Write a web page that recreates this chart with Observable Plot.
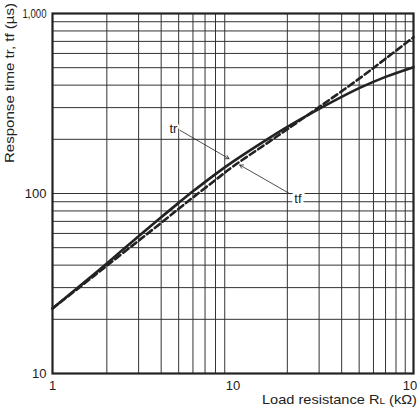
<!DOCTYPE html>
<html>
<head>
<meta charset="utf-8">
<script src="https://cdn.jsdelivr.net/npm/d3@7"></script>
<script src="https://cdn.jsdelivr.net/npm/@observablehq/plot@0.6"></script>
<style>
  body { margin: 0; background: #fff; overflow: hidden; }
  #chart { width: 417px; height: 409px; overflow: hidden; }
</style>
</head>
<body>
<div id="chart"></div>
<script>
// Load resistance RL (kΩ)
const rl = [1, 1.5, 2, 3, 4, 5, 6, 8, 10, 15, 20, 30, 50, 70, 100];
// Rise time tr (µs)
const trValues = [23, 32.1, 40.9, 57.8, 73.8, 88.7, 102.8, 128.2, 150.3, 196, 234.4, 295, 384.6, 444.6, 503.5];
// Fall time tf (µs)
const tfValues = [23, 31.6, 39.7, 54.7, 68.7, 82.2, 95.1, 118.9, 141.3, 186.6, 227.5, 302, 434.5, 561, 738];

const xTicks = [1, 10, 100];
const yTicks = [10, 100, 1000];
const xMinor = [2,3,4,5,6,7,8,9,20,30,40,50,60,70,80,90];
const yMinor = [20,30,40,50,60,70,80,90,100,200,300,400,500,600,700,800,900];

const trData = rl.map((x, i) => ({x, y: trValues[i]}));
const tfData = rl.map((x, i) => ({x, y: tfValues[i]}));

const fmt = d => d.toLocaleString("en-US");

const plot = Plot.plot({
  width: 417,
  height: 409,
  marginLeft: 52,
  marginRight: 4,
  marginTop: 13,
  marginBottom: 36,
  style: { fontFamily: "'Liberation Sans', Arial, sans-serif", fontSize: "13px", background: "white", color: "#222" },
  x: { type: "log", domain: [1, 100], ticks: xTicks, tickFormat: fmt, tickSize: 0, tickPadding: 7, label: null },
  y: { type: "log", domain: [10, 1000], ticks: yTicks, tickFormat: fmt, tickSize: 0, tickPadding: 6, label: null },
  marks: [
    Plot.ruleX(xMinor, { stroke: "#333", strokeWidth: 1 }),
    Plot.ruleY(yMinor, { stroke: "#333", strokeWidth: 1 }),
    Plot.line(tfData, { x: "x", y: "y", stroke: "#222", strokeWidth: 2.6, strokeDasharray: "6.5,3.5", curve: "catmull-rom" }),
    Plot.line(trData, { x: "x", y: "y", stroke: "#222", strokeWidth: 2.6, curve: "catmull-rom" }),
    Plot.arrow([{x1: 5.1, y1: 224, x2: 9.5, y2: 156}], { x1: "x1", y1: "y1", x2: "x2", y2: "y2", stroke: "#222", strokeWidth: 0.8, headLength: 7 }),
    Plot.arrow([{x1: 20.7, y1: 99.6, x2: 10.9, y2: 144}], { x1: "x1", y1: "y1", x2: "x2", y2: "y2", stroke: "#222", strokeWidth: 0.8, headLength: 7 }),
    Plot.text([{x: 4.68, y: 229, t: "tr"}], { x: "x", y: "y", text: "t", fontSize: 13, fill: "#222", stroke: "white", strokeWidth: 4 }),
    Plot.text([{x: 22.9, y: 93.5, t: "tf"}], { x: "x", y: "y", text: "t", fontSize: 13, fill: "#222", stroke: "white", strokeWidth: 6 }),
    Plot.frame({ stroke: "#222", strokeWidth: 2.2 })
  ]
});

const svg = d3.select(plot);
// condense the "1,000" tick label as in the reference
svg.selectAll("[aria-label='y-axis tick label'] text")
  .filter(function() { return this.textContent === "1,000"; })
  .attr("textLength", 24)
  .attr("lengthAdjust", "spacingAndGlyphs");
// y axis title
svg.append("text")
  .attr("transform", "translate(14,163) rotate(-90)")
  .attr("text-anchor", "start")
  .attr("fill", "#222")
  .attr("textLength", 160)
  .attr("lengthAdjust", "spacingAndGlyphs")
  .style("font-size", "12.5px")
  .text("Response time tr, tf (µs)");
// x axis title with subscript L
const xt = svg.append("text")
  .attr("x", 262)
  .attr("y", 404)
  .attr("text-anchor", "start")
  .attr("fill", "#222")
  .attr("textLength", 155)
  .attr("lengthAdjust", "spacingAndGlyphs")
  .style("font-size", "13px");
xt.append("tspan").text("Load resistance R");
xt.append("tspan").style("font-size", "9px").text("L");
xt.append("tspan").text(" (kΩ)");

document.getElementById("chart").append(plot);
</script>
</body>
</html>
